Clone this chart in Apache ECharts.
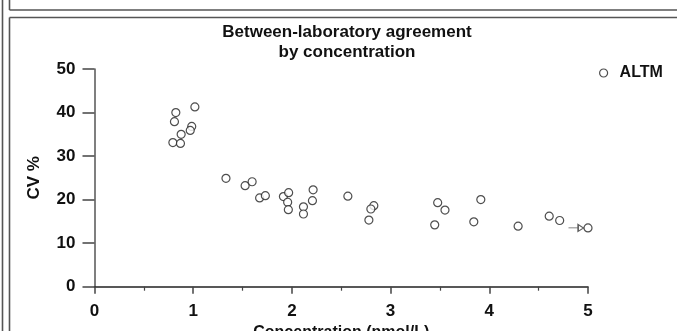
<!DOCTYPE html>
<html>
<head>
<meta charset="utf-8">
<script src="https://cdn.jsdelivr.net/npm/echarts@6/dist/echarts.min.js"></script>
<style>
html,body{margin:0;padding:0;background:#fff;}
#c{width:677px;height:331px;}
</style>
</head>
<body>
<div id="c"></div>
<script>
var seriesName = 'ALTM';
var concentration = [0.824, 1.017, 0.810, 0.985, 0.970, 0.878, 0.794, 0.871, 1.332, 1.526, 1.597, 1.673, 1.731, 1.914, 1.967, 1.957, 1.964, 2.117, 2.117, 2.215, 2.208, 2.567, 2.830, 2.800, 2.780, 3.477, 3.551, 3.447, 3.914, 3.843, 4.292, 4.607, 4.713, 5.0];
var cvPercent = [40.0, 41.3, 37.9, 36.8, 35.9, 35.0, 33.1, 32.9, 24.9, 23.2, 24.1, 20.4, 20.9, 20.7, 21.6, 19.4, 17.7, 18.35, 16.7, 22.25, 19.75, 20.8, 18.6, 17.85, 15.3, 19.3, 17.6, 14.2, 20.0, 14.9, 13.9, 16.2, 15.2, 13.5];
// point beyond the axis maximum, drawn at the edge with an arrow
var offScalePoint = [5.0, 13.5];
var xTicks = [0, 1, 2, 3, 4, 5];
var yTicks = [0, 10, 20, 30, 40, 50];

var FONT = '"Liberation Sans", Arial, sans-serif';
var points = concentration.map(function (x, i) { return [x, cvPercent[i]]; });

var chart = echarts.init(document.getElementById('c'), null, {renderer: 'canvas'});
var lineCol = '#555';
chart.setOption({
  animation: false,
  backgroundColor: '#fff',
  title: {
    text: 'Between-laboratory agreement\nby concentration',
    left: 342, top: 17, textAlign: 'center',
    textStyle: {fontFamily: FONT, fontWeight: 'bold', fontSize: 17, lineHeight: 20, color: '#111'}
  },
  legend: {
    left: 594, top: 60,
    itemWidth: 8, itemHeight: 8,
    data: [{name: seriesName, icon: 'circle', itemStyle: {color: '#fff', borderColor: '#222', borderWidth: 1.2}}],
    textStyle: {fontFamily: FONT, fontWeight: 'bold', fontSize: 16, color: '#111', padding: [0, 0, 0, 7]}
  },
  grid: {left: 94.5, right: 89, top: 69, bottom: 44.3, containLabel: false, outerBoundsMode: 'none'},
  xAxis: {
    type: 'value', min: xTicks[0], max: xTicks[xTicks.length - 1], interval: 1,
    name: 'Concentration (nmol/L)', nameLocation: 'middle', nameGap: 37,
    nameTextStyle: {fontFamily: FONT, fontWeight: 'bold', fontSize: 16, color: '#111'},
    axisLine: {show: true, onZero: false, lineStyle: {color: '#222', width: 1.5}},
    axisTick: {show: true, inside: false, length: 7, lineStyle: {color: '#444', width: 1.5}},
    minorTick: {show: true, splitNumber: 2, length: 4, lineStyle: {color: '#444', width: 1.2}},
    axisLabel: {fontFamily: FONT, fontWeight: 'bold', fontSize: 17, color: '#111', margin: 16},
    splitLine: {show: false}
  },
  yAxis: {
    type: 'value', min: yTicks[0], max: yTicks[yTicks.length - 1], interval: 10,
    name: 'CV %', nameLocation: 'middle', nameGap: 52, nameRotate: 90,
    nameTextStyle: {fontFamily: FONT, fontWeight: 'bold', fontSize: 17, color: '#111'},
    axisLine: {show: true, lineStyle: {color: '#555', width: 1.5}},
    axisTick: {show: true, inside: false, length: 12, lineStyle: {color: '#444', width: 1.5}},
    axisLabel: {fontFamily: FONT, fontWeight: 'bold', fontSize: 17, color: '#111', margin: 19},
    splitLine: {show: false}
  },
  series: [
    {
      name: seriesName, type: 'scatter', data: points,
      symbol: 'circle', symbolSize: 8,
      itemStyle: {color: '#fff', borderColor: '#222', borderWidth: 1.2},
      z: 3
    },
    {
      name: 'arrow', type: 'scatter', data: [offScalePoint],
      symbol: 'path://M0,5 L9,5 M9,2 L14,5 L9,8 Z',
      symbolSize: [15, 7], symbolOffset: [-12, 0],
      itemStyle: {color: '#fff', borderColor: '#333', borderWidth: 1.1},
      silent: true, z: 2
    }
  ],
  graphic: [
    {type: 'line', shape: {x1: 2.5, y1: 0, x2: 2.5, y2: 331}, style: {stroke: lineCol, lineWidth: 1.6}},
    {type: 'line', shape: {x1: 9.5, y1: 0, x2: 9.5, y2: 10}, style: {stroke: lineCol, lineWidth: 1.6}},
    {type: 'line', shape: {x1: 9.5, y1: 10, x2: 677, y2: 10}, style: {stroke: lineCol, lineWidth: 1.6}},
    {type: 'line', shape: {x1: 9.5, y1: 17.5, x2: 677, y2: 17.5}, style: {stroke: lineCol, lineWidth: 1.6}},
    {type: 'line', shape: {x1: 9.5, y1: 17.5, x2: 9.5, y2: 331}, style: {stroke: lineCol, lineWidth: 1.6}}
  ]
});
</script>
</body>
</html>
